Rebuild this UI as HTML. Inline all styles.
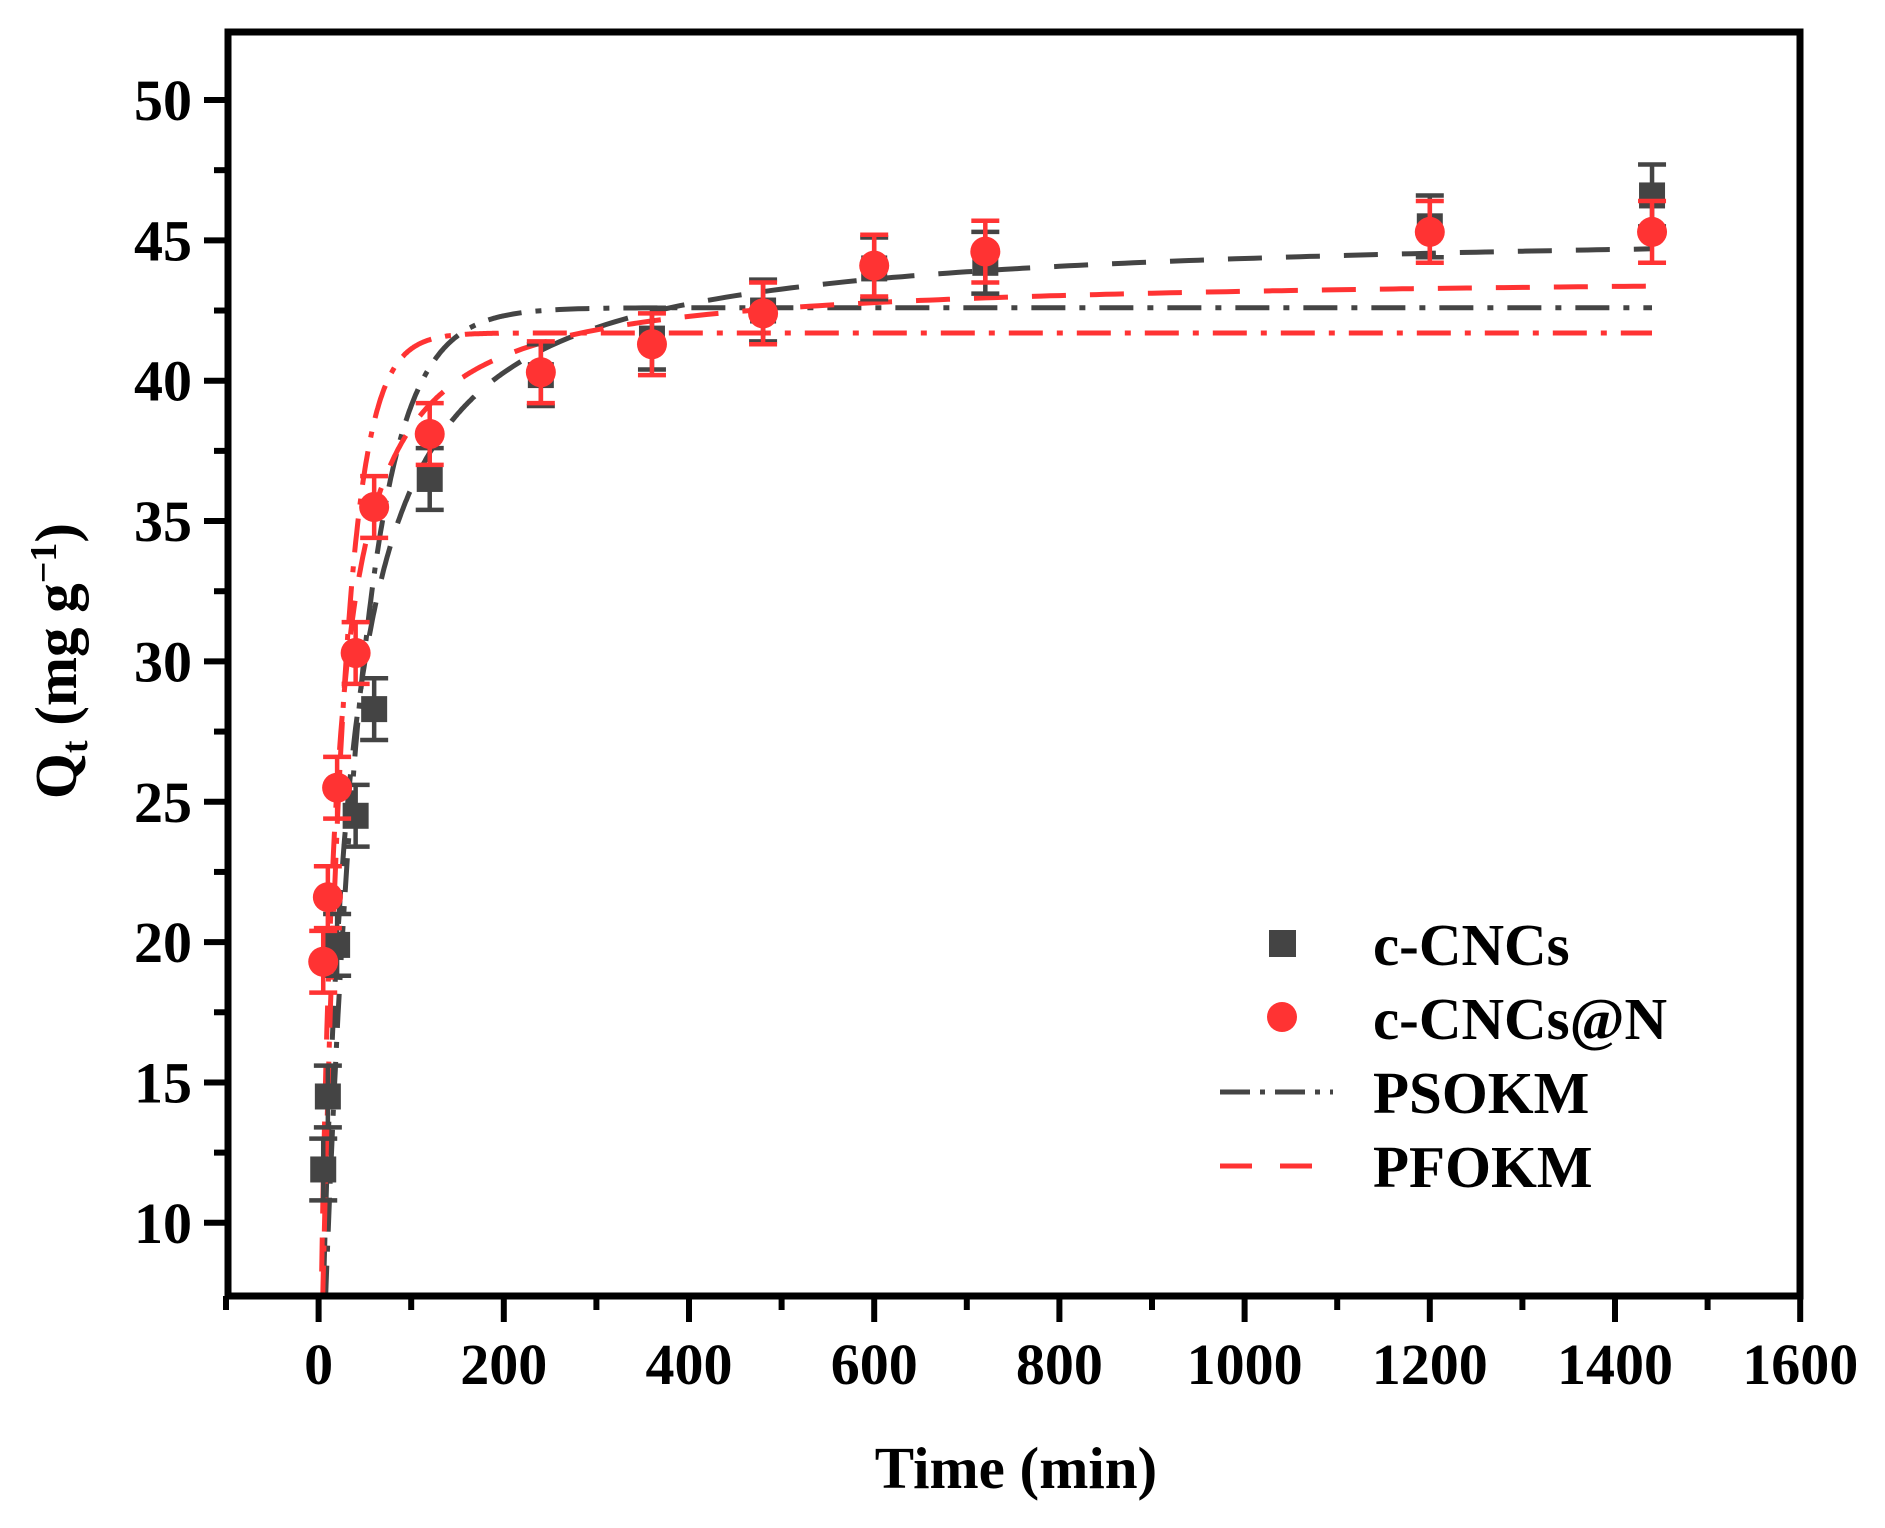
<!DOCTYPE html>
<html><head><meta charset="utf-8"><style>
html,body{margin:0;padding:0;background:#fff;width:1885px;height:1528px;overflow:hidden}
text{font-family:"Liberation Serif",serif;font-weight:bold;fill:#000}
</style></head><body>
<svg id="s" width="1885" height="1528" xmlns="http://www.w3.org/2000/svg">
<defs><clipPath id="c"><rect x="228" y="32" width="1570" height="1262"/></clipPath></defs>
<g id="curves" clip-path="url(#c)"></g>
<g id="pts"></g>
<rect x="228" y="32" width="1572" height="1264" fill="none" stroke="#000" stroke-width="7"/>
<g id="ax"></g>
<text x="1016" y="1488" font-size="59" text-anchor="middle">Time (min)</text>
<text transform="translate(76,661) rotate(-90)" font-size="59" text-anchor="middle">Q<tspan font-size="38" dy="11">t</tspan><tspan dy="-11"> (mg g</tspan><tspan font-size="38" dy="-20">−1</tspan><tspan dy="20">)</tspan></text>
<rect x="1269" y="930" width="27" height="27" fill="#444"/>
<circle cx="1282" cy="1017" r="15" fill="#f33"/>
<line x1="1220" y1="1092" x2="1333" y2="1092" stroke="#444" stroke-width="5" stroke-dasharray="30,10,5,10"/>
<line x1="1220" y1="1166" x2="1313" y2="1166" stroke="#f33" stroke-width="5" stroke-dasharray="32,28"/>
<text x="1373" y="965" font-size="59">c-CNCs</text>
<text x="1373" y="1039" font-size="59">c-CNCs@N</text>
<text x="1373" y="1113" font-size="59">PSOKM</text>
<text x="1373" y="1187" font-size="59">PFOKM</text>
</svg>
<script>
var NS="http://www.w3.org/2000/svg";
function X(t){return 226+(t+100)*0.926;}
function Y(v){return 100+(50-v)*28.07;}
function el(p,n,a){var e=document.createElementNS(NS,n);for(var k in a)e.setAttribute(k,a[k]);p.appendChild(e);return e;}
var ax=document.getElementById('ax');
for(var v=10;v<=50;v+=2.5){var maj=(v%5==0);el(ax,'line',{x1:maj?204:214,x2:228,y1:Y(v),y2:Y(v),stroke:'#000','stroke-width':6});
 if(maj){var t=el(ax,'text',{x:192,y:Y(v)+20,'font-size':58,'text-anchor':'end'});t.textContent=v;}}
for(var t=-100;t<=1600;t+=100){var maj=(t%200==0);el(ax,'line',{x1:X(t),x2:X(t),y1:1296,y2:maj?1322:1310,stroke:'#000','stroke-width':6});
 if(maj){var tx=el(ax,'text',{x:X(t),y:1384,'font-size':58,'text-anchor':'middle'});tx.textContent=t;}}
var cv=document.getElementById('curves');
function curve(f,col,dash){var d='';for(var t=0;t<=1440;t+=(t<200?1:10)){d+=(d?'L':'M')+X(t).toFixed(1)+','+Y(f(t)).toFixed(1);}
 el(cv,'path',{d:d,fill:'none',stroke:col,'stroke-width':5,'stroke-dasharray':dash});}
var DD='34,14,6,14',DA='34,24';
curve(function(t){return 42.6*(1-Math.exp(-0.025*t));},'#444',DD);
curve(function(t){var x=45.5*8.5e-4*t;return 45.5*x/(1+x);},'#444',DA);
curve(function(t){return 41.7*(1-Math.exp(-0.043*t));},'#f33',DD);
curve(function(t){var x=43.8*1.6e-3*t;return 43.8*x/(1+x);},'#f33',DA);
var T=[5,10,20,40,60,120,240,360,480,600,720,1200,1440];
var B=[11.9,14.5,19.9,24.5,28.3,36.5,40.2,41.5,42.5,44,44.2,45.5,46.6];
var R=[19.3,21.6,25.5,30.3,35.5,38.1,40.3,41.3,42.4,44.1,44.6,45.3,45.3];
var pg=document.getElementById('pts');
function eb(t,v,col){var x=X(t);el(pg,'line',{x1:x,x2:x,y1:Y(v+1.1),y2:Y(v-1.1),stroke:col,'stroke-width':4.5});
 [v+1.1,v-1.1].forEach(function(u){el(pg,'line',{x1:x-14,x2:x+14,y1:Y(u),y2:Y(u),stroke:col,'stroke-width':4.5});});}
for(var i=0;i<T.length;i++){eb(T[i],B[i],'#444');el(pg,'rect',{x:X(T[i])-13,y:Y(B[i])-13,width:26,height:26,fill:'#444'});}
for(var i=0;i<T.length;i++){eb(T[i],R[i],'#f33');el(pg,'circle',{cx:X(T[i]),cy:Y(R[i]),r:15,fill:'#f33'});}
</script>
</body></html>
